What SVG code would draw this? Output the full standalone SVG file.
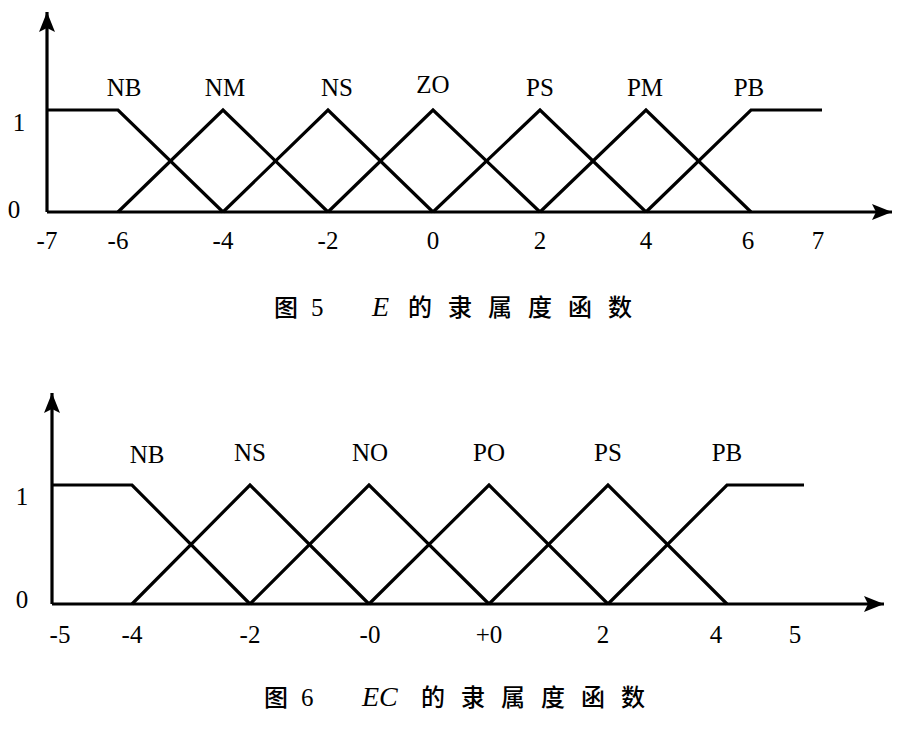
<svg xmlns="http://www.w3.org/2000/svg" width="897" height="740" viewBox="0 0 897 740">
<style>
.ax{stroke:#000;stroke-width:3.2;fill:none}
.mf{stroke:#000;stroke-width:3.2;fill:none;stroke-linejoin:miter}
.t{font-family:"Liberation Serif","Times New Roman",serif;font-size:25px;fill:#000;text-anchor:middle}
.cap{font-family:"Liberation Serif","Noto Sans CJK SC",serif;font-size:25px;fill:#000}
.cj{font-family:"Noto Sans CJK SC","Liberation Serif",sans-serif;font-size:24px;font-weight:500;fill:#000}
.it{font-family:"Liberation Serif",serif;font-style:italic;font-size:28px;fill:#000}
</style>
<defs>
<marker id="ah" viewBox="0 0 20 16" refX="20" refY="8" markerWidth="20" markerHeight="16" markerUnits="userSpaceOnUse" orient="auto">
<path d="M0,0 L20,8 L0,16 L4,8 Z" fill="#000"/>
</marker>
</defs>
<rect width="897" height="740" fill="#fff"/>

<!-- Figure 5 -->
<g id="fig5-axes" class="connectors">
<line class="ax" x1="47" y1="212" x2="47" y2="12" marker-end="url(#ah)"/>
<line class="ax" x1="47" y1="212" x2="892" y2="212" marker-end="url(#ah)"/>
</g>
<g id="fig5-NB"><polyline class="mf" points="47,110 118,110 223,212"/><text class="t" x="124" y="96">NB</text></g>
<g id="fig5-NM"><polyline class="mf" points="118,212 223,110 328,212"/><text class="t" x="225" y="96">NM</text></g>
<g id="fig5-NS"><polyline class="mf" points="223,212 328,110 433,212"/><text class="t" x="337" y="96">NS</text></g>
<g id="fig5-ZO"><polyline class="mf" points="328,212 433,110 540,212"/><text class="t" x="433" y="93">ZO</text></g>
<g id="fig5-PS"><polyline class="mf" points="433,212 540,110 646,212"/><text class="t" x="540" y="96">PS</text></g>
<g id="fig5-PM"><polyline class="mf" points="540,212 646,110 751,212"/><text class="t" x="645" y="96">PM</text></g>
<g id="fig5-PB"><polyline class="mf" points="646,212 751,110 822,110"/><text class="t" x="749" y="96">PB</text></g>
<g id="fig5-ticks">
<text class="t" x="19" y="131">1</text>
<text class="t" x="14" y="218">0</text>
<text class="t" x="47" y="249">-7</text>
<text class="t" x="118" y="249">-6</text>
<text class="t" x="223" y="249">-4</text>
<text class="t" x="328" y="249">-2</text>
<text class="t" x="433" y="249">0</text>
<text class="t" x="540" y="249">2</text>
<text class="t" x="646" y="249">4</text>
<text class="t" x="748" y="249">6</text>
<text class="t" x="818" y="249">7</text>
</g>
<g id="caption5">
<text class="cj" x="274" y="316">图</text>
<text class="cap" x="311" y="316">5</text>
<text class="it" x="372" y="316">E</text>
<text class="cj" x="408" y="316" letter-spacing="16">的隶属度函数</text>
</g>

<!-- Figure 6 -->
<g id="fig6-axes" class="connectors">
<line class="ax" x1="52" y1="604" x2="52" y2="393" marker-end="url(#ah)"/>
<line class="ax" x1="52" y1="604" x2="884" y2="604" marker-end="url(#ah)"/>
</g>
<g id="fig6-NB"><polyline class="mf" points="52,485 132,485 250,604"/><text class="t" x="147" y="463">NB</text></g>
<g id="fig6-NS"><polyline class="mf" points="132,604 250,485 369,604"/><text class="t" x="250" y="461">NS</text></g>
<g id="fig6-NO"><polyline class="mf" points="250,604 369,485 489,604"/><text class="t" x="370" y="461">NO</text></g>
<g id="fig6-PO"><polyline class="mf" points="369,604 489,485 608,604"/><text class="t" x="489" y="461">PO</text></g>
<g id="fig6-PS"><polyline class="mf" points="489,604 608,485 727,604"/><text class="t" x="608" y="461">PS</text></g>
<g id="fig6-PB"><polyline class="mf" points="608,604 727,485 804,485"/><text class="t" x="727" y="461">PB</text></g>
<g id="fig6-ticks">
<text class="t" x="22" y="505">1</text>
<text class="t" x="22" y="608">0</text>
<text class="t" x="60" y="643">-5</text>
<text class="t" x="132" y="643">-4</text>
<text class="t" x="250" y="643">-2</text>
<text class="t" x="370" y="643">-0</text>
<text class="t" x="489" y="643">+0</text>
<text class="t" x="603" y="643">2</text>
<text class="t" x="716" y="643">4</text>
<text class="t" x="795" y="643">5</text>
</g>
<g id="caption6">
<text class="cj" x="264" y="706">图</text>
<text class="cap" x="301" y="706">6</text>
<text class="it" x="362" y="706">EC</text>
<text class="cj" x="421" y="706" letter-spacing="16">的隶属度函数</text>
</g>
</svg>
